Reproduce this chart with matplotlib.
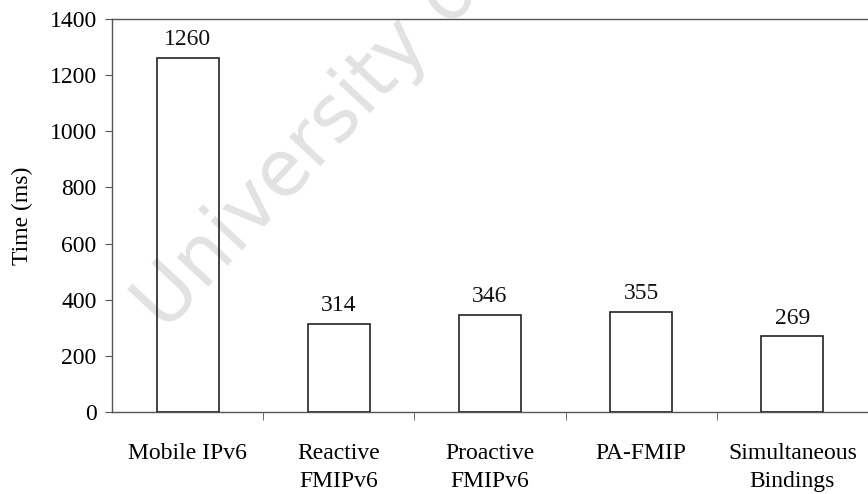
import numpy as np
import matplotlib.pyplot as plt

# Handover times
schemes = ['Mobile IPv6', 'Reactive\nFMIPv6', 'Proactive\nFMIPv6', 'PA-FMIP', 'Simultaneous\nBindings']
times = [1260, 314, 346, 355, 269]
yticks = [0, 200, 400, 600, 800, 1000, 1200, 1400]

plt.rcParams['font.family'] = ['Liberation Serif', 'DejaVu Serif']

fig = plt.figure(figsize=(8.68, 4.94), dpi=100)
ax = fig.add_axes([0.129, 0.166, 0.871, 0.7955])

x = np.arange(len(schemes))
ax.bar(x, times, width=0.41, facecolor='none', edgecolor='#222222', linewidth=1.2, zorder=3)

# value labels above the bars
for xi, t in zip(x, times):
    ax.text(xi, t + 28, str(t), ha='center', va='bottom', fontsize=17, color='#111111', zorder=4)

ax.set_xlim(-0.5, len(schemes) - 0.5)
ax.set_ylim(0, 1400)
ax.set_yticks(yticks)
ax.set_yticklabels([str(v) for v in yticks], fontsize=17)
ax.set_xticks(x)
ax.set_xticklabels(schemes, fontsize=17, linespacing=1.45)
ax.tick_params(axis='x', length=0, pad=22)
ax.set_xticks(np.arange(0.5, len(schemes) - 0.5, 1), minor=True)
ax.tick_params(axis='x', which='minor', length=6, direction='out', color='#555555')
ax.tick_params(axis='y', length=5, direction='out', color='#555555', pad=6)
ax.set_ylabel('Time (ms)', fontsize=17, labelpad=12)

for side in ['left', 'bottom', 'top']:
    ax.spines[side].set_color('#555555')
    ax.spines[side].set_linewidth(1.0)
ax.spines['right'].set_visible(False)

# faint scan watermark, sits behind the bar outlines
ax.text(0.19, 0.325, 'University of Cape Town', transform=fig.transFigure,
        rotation=47, rotation_mode='anchor', ha='left', va='baseline',
        fontsize=56, color='#e2e2e2', family='DejaVu Sans', zorder=1, clip_on=False)

fig.savefig('out.png', dpi=100)
